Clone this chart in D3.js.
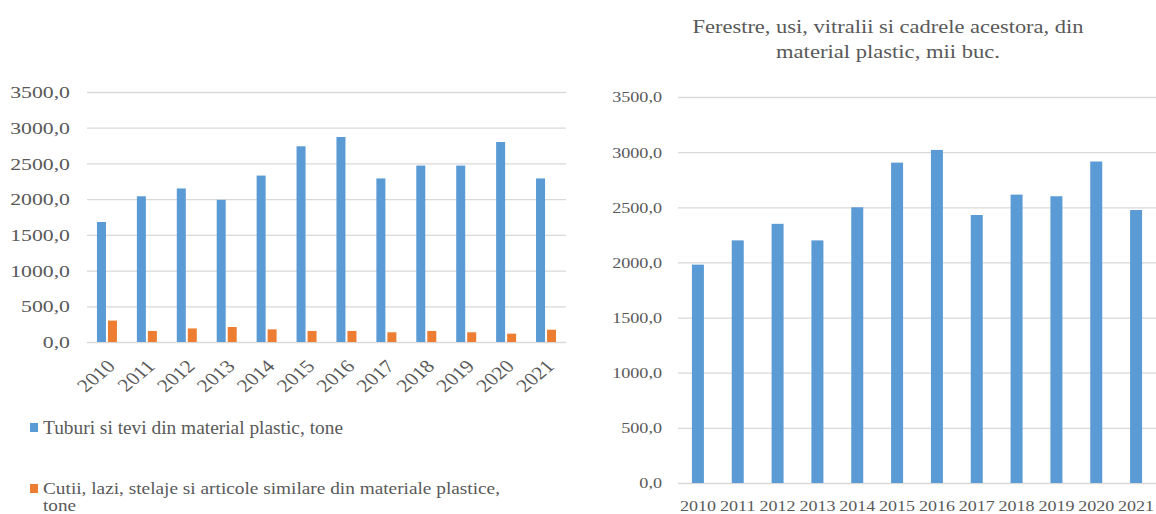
<!DOCTYPE html>
<html>
<head>
<meta charset="utf-8">
<script src="https://cdn.jsdelivr.net/npm/d3@7"></script>
<style>
  html, body { margin: 0; padding: 0; background: #fff; }
  svg { display: block; }
  svg text { font-family: "Liberation Serif", "Times New Roman", Tinos, "DejaVu Serif", serif !important; fill: #595959; }
</style>
</head>
<body>
<svg id="chart" width="1156" height="514"></svg>
<script>
// ---------- DATA ----------
const years = ["2010","2011","2012","2013","2014","2015","2016","2017","2018","2019","2020","2021"];
const tuburi = [1680, 2040, 2150, 1990, 2330, 2740, 2870, 2290, 2470, 2470, 2800, 2290];
const cutii  = [300, 155, 190, 210, 177, 155, 155, 136, 155, 136, 117, 172];
const ferestre = [1980, 2200, 2350, 2200, 2500, 2905, 3020, 2430, 2615, 2600, 2915, 2475];
const yTicks = [0, 500, 1000, 1500, 2000, 2500, 3000, 3500];
const seriesNames = ["Tuburi si tevi din material plastic, tone",
                     "Cutii, lazi, stelaje si articole similare din materiale plastice,", "tone"];
const titleLines = ["Ferestre, usi, vitralii  si cadrele acestora, din", "material plastic, mii buc."];

const BLUE = "#5B9BD5", ORANGE = "#ED7D31", GRID = "#D9D9D9";
const fmt = v => d3.format(".1f")(v).replace(".", ",");

const svg = d3.select("#chart");

// ---------- LEFT CHART ----------
(function() {
  const x0 = 87, x1 = 566, yTop = 92, yBot = 342;
  const x = d3.scaleBand().domain(years).range([x0, x1]).paddingInner(0).paddingOuter(0);
  const y = d3.scaleLinear().domain([0, 3500]).range([yBot, yTop]);
  const g = svg.append("g");

  const ax = g.append("g").attr("transform", `translate(${x0},0)`)
    .call(d3.axisLeft(y).tickValues(yTicks).tickSize(-(x1 - x0)).tickFormat(fmt));
  ax.attr("font-family", null);
  ax.select(".domain").remove();
  ax.selectAll(".tick line").attr("stroke", GRID).attr("stroke-width", 1.3);
  ax.selectAll(".tick text")
    .attr("x", null).attr("dy", null)
    .attr("dominant-baseline", "central")
    .attr("fill", "#595959")
    .style("font-size", "17px")
    .attr("transform", "translate(-17,0) scale(1.28,1)");

  const bw = 9, gap = 2;
  g.selectAll(".b1").data(years).join("rect")
    .attr("x", d => x(d) + x.bandwidth()/2 - bw - gap/2)
    .attr("width", bw)
    .attr("y", (d,i) => y(tuburi[i]))
    .attr("height", (d,i) => yBot - y(tuburi[i]))
    .attr("fill", BLUE);
  g.selectAll(".b2").data(years).join("rect")
    .attr("x", d => x(d) + x.bandwidth()/2 + gap/2)
    .attr("width", bw)
    .attr("y", (d,i) => y(cutii[i]))
    .attr("height", (d,i) => yBot - y(cutii[i]))
    .attr("fill", ORANGE);

  const xa = g.append("g").attr("transform", `translate(0,${yBot})`)
    .call(d3.axisBottom(x).tickSize(0).tickFormat(d => d));
  xa.attr("font-family", null);
  xa.select(".domain").remove();
  xa.selectAll(".tick text")
    .attr("y", null).attr("dy", null)
    .attr("text-anchor", "end")
    .attr("dominant-baseline", "central")
    .attr("fill", "#595959")
    .style("font-size", "18px")
    .attr("transform", "translate(4,21) scale(1.2,1) rotate(-45)");

  // legend
  const lg = g.append("g");
  lg.append("rect").attr("x", 30).attr("y", 423).attr("width", 8).attr("height", 9).attr("fill", BLUE);
  lg.append("text").attr("x", 43).attr("y", 428).attr("dominant-baseline", "central")
    .style("font-size", "18px").attr("textLength", 300).attr("lengthAdjust", "spacingAndGlyphs")
    .text(seriesNames[0]);
  lg.append("rect").attr("x", 30).attr("y", 484).attr("width", 8).attr("height", 9).attr("fill", ORANGE);
  lg.append("text").attr("x", 43).attr("y", 488).attr("dominant-baseline", "central")
    .style("font-size", "17px").attr("textLength", 457).attr("lengthAdjust", "spacingAndGlyphs")
    .text(seriesNames[1]);
  lg.append("text").attr("x", 43).attr("y", 505).attr("dominant-baseline", "central")
    .style("font-size", "17px").attr("textLength", 33).attr("lengthAdjust", "spacingAndGlyphs")
    .text(seriesNames[2]);
})();

// ---------- RIGHT CHART ----------
(function() {
  const x0 = 678, x1 = 1156, yTop = 97, yBot = 483;
  const x = d3.scaleBand().domain(years).range([x0, x1]);
  const y = d3.scaleLinear().domain([0, 3500]).range([yBot, yTop]);
  const g = svg.append("g");

  const ax = g.append("g").attr("transform", `translate(${x0},0)`)
    .call(d3.axisLeft(y).tickValues(yTicks).tickSize(-(x1 - x0)).tickFormat(fmt));
  ax.attr("font-family", null);
  ax.select(".domain").remove();
  ax.selectAll(".tick line").attr("stroke", GRID).attr("stroke-width", 1.3);
  ax.selectAll(".tick text")
    .attr("x", null).attr("dy", null)
    .attr("dominant-baseline", "central")
    .attr("fill", "#595959")
    .style("font-size", "15px")
    .attr("transform", "translate(-16,0) scale(1.21,1)");

  const bw = 12;
  g.selectAll(".b").data(years).join("rect")
    .attr("x", d => x(d) + x.bandwidth()/2 - bw/2)
    .attr("width", bw)
    .attr("y", (d,i) => y(ferestre[i]))
    .attr("height", (d,i) => yBot - y(ferestre[i]))
    .attr("fill", BLUE);

  const xa = g.append("g").attr("transform", `translate(0,${yBot})`)
    .call(d3.axisBottom(x).tickSize(0).tickFormat(d => d));
  xa.attr("font-family", null);
  xa.select(".domain").remove();
  xa.selectAll(".tick text")
    .attr("y", null).attr("dy", null)
    .attr("text-anchor", "middle")
    .attr("dominant-baseline", "central")
    .attr("fill", "#595959")
    .style("font-size", "15px")
    .attr("transform", "translate(0,23) scale(1.2,1)");

  // title
  g.append("text").attr("x", 888).attr("y", 27).attr("text-anchor", "middle")
    .attr("dominant-baseline", "central").style("font-size", "18px")
    .attr("textLength", 391).attr("lengthAdjust", "spacingAndGlyphs").text(titleLines[0]);
  g.append("text").attr("x", 888).attr("y", 52).attr("text-anchor", "middle")
    .attr("dominant-baseline", "central").style("font-size", "18px")
    .attr("textLength", 224).attr("lengthAdjust", "spacingAndGlyphs").text(titleLines[1]);
})();
</script>
</body>
</html>
